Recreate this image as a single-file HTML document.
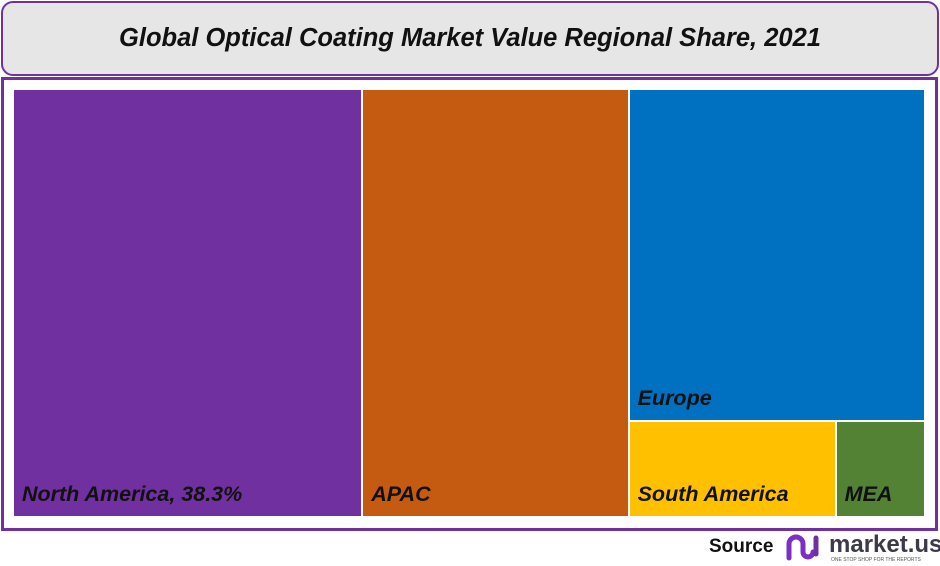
<!DOCTYPE html>
<html><head><meta charset="utf-8"><style>
body{margin:0;width:940px;height:566px;background:#fff;font-family:"Liberation Sans",sans-serif;position:relative;overflow:hidden}
#title{position:absolute;left:1px;top:1px;width:934px;height:71px;border:2px solid #7030a0;border-radius:12px;background:#e6e6e6;display:flex;align-items:center;justify-content:center;font-size:25.5px;font-weight:bold;font-style:italic;color:#111}
#frame{position:absolute;left:1px;top:77px;width:931px;height:448px;border:3px solid #7030a0}
.cell{position:absolute}
.lbl{position:absolute;left:8px;bottom:9px;font-size:21.5px;font-weight:bold;font-style:italic;color:#111;white-space:nowrap}
#src{position:absolute;left:709px;top:536px;font-size:19px;font-weight:bold;color:#111}
#logo{position:absolute;left:785px;top:530px}
</style></head><body>
<div id="title">Global Optical Coating Market Value Regional Share, 2021</div>
<div id="frame"></div>
<div id="plot"></div>
<div id="src">Source</div>
<svg id="logo" width="155" height="34">
<path d="M4 28 V14 a7 7 0 0 1 14 0 V22 a5 5 0 0 0 10 0" stroke="#7b2fc4" stroke-width="5" fill="none" stroke-linecap="round"/>
<line x1="31" y1="8" x2="31" y2="24" stroke="#7030a0" stroke-width="5" stroke-linecap="round"/>
<text x="44" y="22" font-family="Liberation Sans" font-weight="bold" font-size="24" fill="#3a3a4a">market.us</text>
<text x="46" y="31" font-family="Liberation Sans" font-size="5" fill="#555">ONE STOP SHOP FOR THE REPORTS</text>
</svg>
<script>
const categories=["North America, 38.3%","APAC","Europe","South America","MEA"];
const values=[38.3,29.2,25.2,5.1,2.2];
const colors=["#7030a0","#c55a11","#0070c0","#ffc000","#548235"];
const X0=14,Y0=90,W=910,H=426,GAP=2;
const total=values.reduce((a,b)=>a+b,0);
const plot=document.getElementById('plot');
function addCell(i,x,y,w,h){
  const d=document.createElement('div');
  
  
  d.className='cell';
  d.style.cssText=`left:${x}px;top:${y}px;width:${w-GAP}px;height:${h-GAP}px;background:${colors[i]}`;
  const l=document.createElement('div');
  
  
  l.className='lbl';l.textContent=categories[i];
  d.appendChild(l);plot.appendChild(d);
}
let x=X0;
for(let i=0;i<2;i++){const w=(W+GAP)*values[i]/total;addCell(i,x,Y0,w,H+GAP);x+=w;}
const restW=X0+W-x+GAP;
const rest=values[2]+values[3]+values[4];
const eh=(H+GAP)*values[2]/rest;
addCell(2,x,Y0,restW,eh);
const bh=H-eh+GAP;const bottom=values[3]+values[4];
let bx=x;
for(let i=3;i<5;i++){const w=restW*values[i]/bottom;addCell(i,bx,Y0+eh,w,bh);bx+=w;}
</script>
</body></html>
